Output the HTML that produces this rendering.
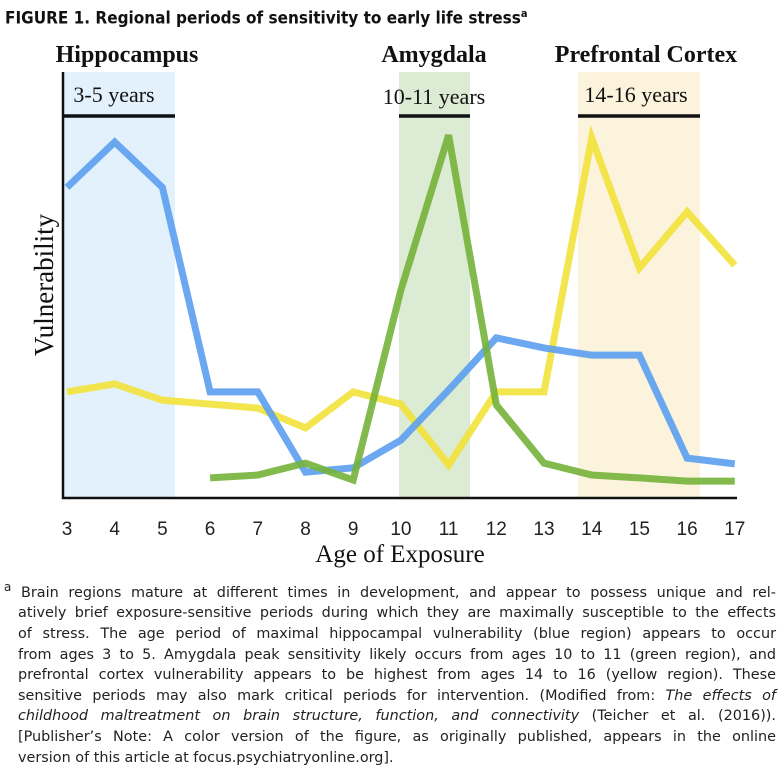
<!DOCTYPE html>
<html><head><meta charset="utf-8"><style>
body{margin:0;width:784px;height:772px;background:#fff;overflow:hidden;font-family:"Liberation Sans",sans-serif;}
#title{position:absolute;left:5px;top:7px;font-size:17px;font-weight:bold;color:#111;font-family:"DejaVu Sans Condensed","DejaVu Sans",sans-serif;}
#title sup{font-size:11px;}
#note{position:absolute;left:4px;top:577px;width:772px;font-size:14.4px;line-height:20.6px;color:#222;font-family:"DejaVu Sans",sans-serif;}
#note div{text-align:justify;text-align-last:justify;padding-left:14px;white-space:nowrap;}
#note div.last{text-align-last:left;}
#note div.first{padding-left:0;}
</style></head><body>
<div id="title">FIGURE 1. Regional periods of sensitivity to early life stress<sup>a</sup></div>
<svg id="chart" width="784" height="575" style="position:absolute;left:0;top:0"></svg>
<div id="note">
<div class="first"><sup>a</sup> Brain regions mature at different times in development, and appear to possess unique and rel-</div>
<div>atively brief exposure-sensitive periods during which they are maximally susceptible to the effects</div>
<div>of stress. The age period of maximal hippocampal vulnerability (blue region) appears to occur</div>
<div>from ages 3 to 5. Amygdala peak sensitivity likely occurs from ages 10 to 11 (green region), and</div>
<div>prefrontal cortex vulnerability appears to be highest from ages 14 to 16 (yellow region). These</div>
<div>sensitive periods may also mark critical periods for intervention. (Modified from: <i>The effects of</i></div>
<div><i>childhood maltreatment on brain structure, function, and connectivity</i> (Teicher et al. (2016)).</div>
<div>[Publisher’s Note: A color version of the figure, as originally published, appears in the online</div>
<div class="last">version of this article at focus.psychiatryonline.org].</div>
</div>
<script>
const ages=[3,4,5,6,7,8,9,10,11,12,13,14,15,16,17];
const blueAges=[3,4,5,6,7,8,9,10,11,12,13,14,15,16,17];
const blueVals=[86,98.6,86,29.2,29.2,6.9,8.1,15.8,29.7,44.2,41.4,39.4,39.4,10.8,9.2];
const greenAges=[6,7,8,9,10,11,12,13,14,15,16,17];
const greenVals=[5.3,6.1,9.4,4.7,57.5,100.5,25.6,9.4,6.1,5.3,4.4,4.4];
const yellowAges=[3,4,5,6,7,8,9,10,11,12,13,14,15,16,17];
const yellowVals=[29.2,31.4,26.9,25.8,24.7,19.2,29.2,25.8,8.9,29.2,29.2,99.7,63.6,79.2,64.4];
const NS="http://www.w3.org/2000/svg";
const svg=document.getElementById('chart');
const x=a=>67+(a-3)*47.7;
const y=v=>497-v*3.6;
function mk(t,at,p){const e=document.createElementNS(NS,t);for(const k in at)e.setAttribute(k,at[k]);if(t==='text')e.textContent=p||'';(p&&t!=='text'?p:svg).appendChild(e);return e;}
let r;
r=mk('rect',{x:63,y:72,width:112,height:425,fill:'#e3f1fc'});


r=mk('rect',{x:399,y:72,width:71,height:425,fill:'#dcebd3'});


r=mk('rect',{x:578,y:72,width:122,height:425,fill:'#fbf3dc'});


[[63,175,'hippocampus-bar'],[399,470,'amygdala-bar'],[578,700,'prefrontal-bar']].forEach(b=>{
 const l=mk('line',{x1:b[0],x2:b[1],y1:116,y2:116,stroke:'#111','stroke-width':3.5});
 
 
});
const ser=(xs,vs,c,name)=>{const p=mk('polyline',{points:xs.map((a,i)=>x(a)+','+y(vs[i])).join(' '),fill:'none',stroke:c,'stroke-width':7,'stroke-linejoin':'miter','stroke-opacity':0.9});
 
 };
ser(yellowAges,yellowVals,'#f2e23a','yellow-line-prefrontal');
ser(blueAges,blueVals,'#5b9ff0','blue-line-hippocampus');
ser(greenAges,greenVals,'#74b23a','green-line-amygdala');
let a=mk('polyline',{points:'63,72 63,498 737,498',fill:'none',stroke:'#111','stroke-width':2.5});


ages.forEach(g=>{const t=mk('text',{x:x(g),y:535,'text-anchor':'middle','font-size':19,fill:'#222','font-family':'Liberation Sans, sans-serif'},String(g));
 
 });
const T=(tx,ty,s,str,name,extra)=>{const t=mk('text',Object.assign({x:tx,y:ty,'font-size':s,fill:'#111','font-family':'Liberation Serif, serif','text-anchor':'middle'},extra||{}),str);
 
 };
T(400,562,25,'Age of Exposure','x-axis-title');
T(0,0,27,'Vulnerability','y-axis-title',{transform:'translate(53,285) rotate(-90)'});
T(127,62,24,'Hippocampus','hippocampus-label',{'font-weight':'bold'});
T(434,62,24,'Amygdala','amygdala-label',{'font-weight':'bold'});
T(646,62,24,'Prefrontal Cortex','prefrontal-label',{'font-weight':'bold'});
T(114,102,22,'3-5 years','hippocampus-range');
T(434,104,22,'10-11 years','amygdala-range');
T(636,102,22,'14-16 years','prefrontal-range');
</script>
</body></html>
